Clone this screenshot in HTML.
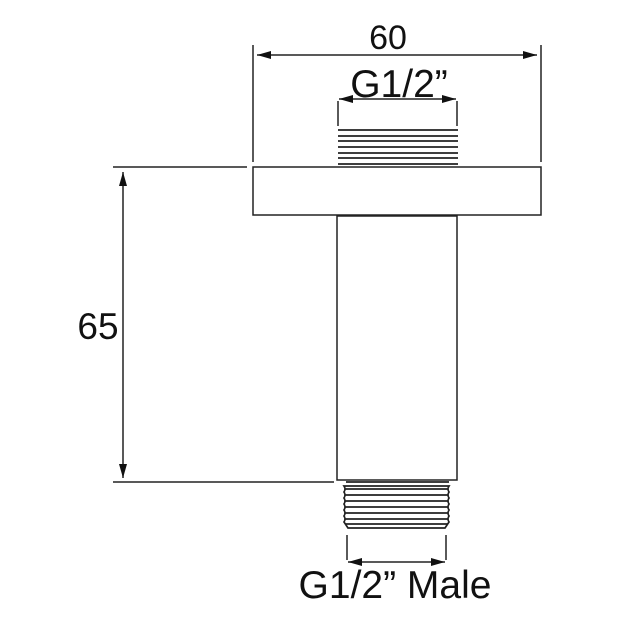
<!DOCTYPE html>
<html><head><meta charset="utf-8"><style>
html,body{margin:0;padding:0;background:#fff}
svg{display:block}
text{font-family:"Liberation Sans","DejaVu Sans",sans-serif;fill:#111}
</style></head><body>
<svg width="636" height="636" viewBox="0 0 636 636" xmlns="http://www.w3.org/2000/svg">
<defs>
<marker id="a" viewBox="0 0 10 10" refX="10" refY="5" markerWidth="14" markerHeight="8" markerUnits="userSpaceOnUse" orient="auto-start-reverse" preserveAspectRatio="none"><path d="M0,0 L10,5 L0,10 z" fill="#111"/></marker>
</defs>
<g stroke="#222" stroke-width="1.5" fill="none">
<line x1="253" y1="45" x2="253" y2="162"/>
<line x1="541" y1="45" x2="541" y2="162"/>
<line x1="257" y1="55" x2="537" y2="55" marker-start="url(#a)" marker-end="url(#a)"/>
<line x1="338" y1="101" x2="338" y2="126"/>
<line x1="457" y1="101" x2="457" y2="126"/>
<line x1="339" y1="99" x2="456" y2="99" marker-start="url(#a)" marker-end="url(#a)"/>
<g stroke-width="1.7">
<line x1="338" y1="130" x2="458" y2="130"/>
<line x1="338" y1="136" x2="458" y2="136"/>
<line x1="338" y1="141" x2="458" y2="141"/>
<line x1="338" y1="147" x2="458" y2="147"/>
<line x1="338" y1="153" x2="458" y2="153"/>
<line x1="338" y1="158" x2="458" y2="158"/>
<line x1="338" y1="164" x2="458" y2="164"/>
</g>
<rect x="253" y="167" width="288" height="48"/>
<rect x="337" y="216" width="120" height="264"/>
<line x1="113" y1="167" x2="247" y2="167"/>
<line x1="113" y1="482" x2="334" y2="482"/>
<line x1="123" y1="172" x2="123" y2="478" marker-start="url(#a)" marker-end="url(#a)"/>
<g stroke-width="1.7">
<path d="M346,482 L449,482"/>
<path d="M344,486 Q346,489 344,492 Q346,495 344,498 Q346,501 344,504 Q346,507 344,510 Q346,513 344,516 Q346,519 344,522 L348,528 L445,528 L449,522 Q447,519 449,516 Q447,513 449,510 Q447,507 449,504 Q447,501 449,498 Q447,495 449,492 Q447,489 449,486 Z"/>
<line x1="345" y1="489" x2="448" y2="489"/>
<line x1="345" y1="495" x2="448" y2="495"/>
<line x1="345" y1="501" x2="448" y2="501"/>
<line x1="345" y1="507" x2="448" y2="507"/>
<line x1="345" y1="513" x2="448" y2="513"/>
<line x1="345" y1="519" x2="448" y2="519"/>
<line x1="345" y1="524" x2="448" y2="524"/>
</g>
<line x1="347" y1="535" x2="347" y2="560"/>
<line x1="446" y1="535" x2="446" y2="560"/>
<line x1="348" y1="562" x2="445" y2="562" marker-start="url(#a)" marker-end="url(#a)"/>
</g>
<text x="388" y="49" font-size="34" text-anchor="middle">60</text>
<text x="399" y="97" font-size="39" text-anchor="middle">G1/2”</text>
<text x="98" y="339" font-size="37" text-anchor="middle">65</text>
<text x="395" y="598" font-size="39" text-anchor="middle">G1/2” Male</text>
</svg>
</body></html>
